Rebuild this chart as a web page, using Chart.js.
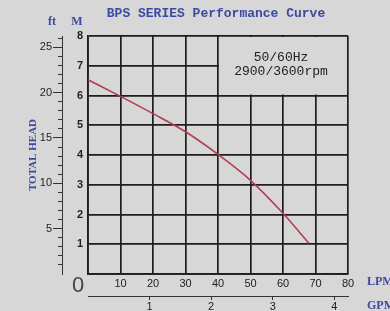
<!DOCTYPE html>
<html><head><meta charset="utf-8">
<script src="https://cdn.jsdelivr.net/npm/chart.js@4/dist/chart.umd.min.js"></script>
<style>html,body{margin:0;padding:0;background:#d7d7d7;}#wrap{width:390px;height:311px;}</style>
</head><body><div id="wrap"><canvas id="c" width="390" height="311"></canvas></div>
<script>
const flowLPM = [0, 10, 20, 30, 40, 50, 60, 68];
const headM = [6.53, 5.97, 5.39, 4.78, 4.02, 3.15, 2.04, 1.03];
const lpmTicks = [10, 20, 30, 40, 50, 60, 70, 80];
const mTicks = [1, 2, 3, 4, 5, 6, 7, 8];
const ftTicks = [5, 10, 15, 20, 25];
const gpmTicks = [1, 2, 3, 4];
const M_TO_FT = 3.28084;
const LPM_PER_GPM = 18.95;
const titleText = 'BPS SERIES Performance Curve';
const boxLines = ['50/60Hz', '2900/3600rpm'];

const BLUE = '#3b4aa0';
const GRID = '#1e1e1e';
const BG = '#d7d7d7';

const bgPlugin = {
  id: 'bg',
  beforeDraw(chart) {
    const ctx = chart.ctx;
    ctx.save(); ctx.fillStyle = BG; ctx.fillRect(0, 0, chart.width, chart.height); ctx.restore();
  },
  beforeDatasetsDraw(chart) {
    const {ctx, scales} = chart;
    const x = scales.x, y = scales.y;
    const l = x.getPixelForValue(40) + 1, r = x.getPixelForValue(80) - 1;
    const t = y.getPixelForValue(8) + 1, b = y.getPixelForValue(6) - 1;
    ctx.save();
    ctx.fillStyle = BG;
    ctx.fillRect(l, t, r - l, b - t);
    ctx.fillStyle = '#222';
    ctx.font = '13px "Liberation Mono"';
    ctx.textAlign = 'center'; ctx.textBaseline = 'middle';
    const cx = (x.getPixelForValue(40) + x.getPixelForValue(80)) / 2 - 2;
    const cy = y.getPixelForValue(7);
    ctx.fillText(boxLines[0], cx, cy - 8);
    ctx.fillText(boxLines[1], cx, cy + 6);
    ctx.restore();
  },
  afterDraw(chart) {
    const {ctx, scales} = chart;
    const x = scales.x, y = scales.y, ft = scales.ft, g = scales.gpm;
    ctx.save();
    ctx.fillStyle = BLUE;
    ctx.textBaseline = 'middle';
    ctx.textAlign = 'center';
    ctx.font = 'bold 13px "Liberation Mono"';
    ctx.fillText(titleText, 216, 14);
    ctx.font = 'bold 12px "Liberation Serif"';
    ctx.fillText('ft', ft.right - 10, 22);
    ctx.fillText('M', y.right - 11, 22);
    ctx.textAlign = 'left';
    ctx.fillText('LPM', x.right + 19, x.top + 8);
    ctx.fillText('GPM', x.right + 19, g.top + 10);
    ctx.fillStyle = '#444';
    ctx.textAlign = 'center';
    ctx.font = '22px "Liberation Sans"';
    ctx.fillText('0', x.getPixelForValue(0) - 10, x.top + 12);
    ctx.restore();
  }
};

new Chart(document.getElementById('c'), {
  type: 'line',
  data: {
    datasets: [{
      data: flowLPM.map((v, i) => ({x: v, y: headM[i]})),
      borderColor: '#b23e52',
      borderWidth: 1.6,
      pointRadius: 0,
      cubicInterpolationMode: 'monotone',
      fill: false
    }]
  },
  options: {
    responsive: false,
    animation: false,
    events: [],
    layout: {padding: {left: 0, right: 42, top: 36, bottom: 0}},
    plugins: {legend: {display: false}, tooltip: {enabled: false}, title: {display: false}},
    scales: {
      x: {
        type: 'linear', position: 'bottom', weight: 0,
        min: 0, max: 80,
        afterFit(s) { s.height = 22; },
        afterBuildTicks(s) { s.ticks = [0].concat(lpmTicks).map(v => ({value: v})); },
        grid: {color: GRID, lineWidth: 1.7, drawTicks: false},
        border: {color: GRID, width: 1.7},
        ticks: {padding: 3, color: '#222', font: {family: 'Liberation Sans', size: 11},
          callback: v => (v === 0 ? '' : String(v))}
      },
      gpm: {
        type: 'linear', position: 'bottom', weight: 1,
        min: 0, max: 80 / LPM_PER_GPM,
        afterFit(s) { s.height = 15; },
        afterBuildTicks(s) { s.ticks = gpmTicks.map(v => ({value: v})); },
        grid: {drawOnChartArea: false, drawTicks: true, tickLength: 4, color: '#333', lineWidth: 1},
        border: {color: '#333', width: 1},
        ticks: {padding: 0, color: '#222', font: {family: 'Liberation Sans', size: 11}, maxRotation: 0}
      },
      y: {
        type: 'linear', position: 'left', weight: 0,
        min: 0, max: 8,
        afterFit(s) { s.width = 26; },
        afterBuildTicks(s) { s.ticks = [0].concat(mTicks).map(v => ({value: v})); },
        grid: {color: GRID, lineWidth: 1.7, drawTicks: false},
        border: {color: GRID, width: 1.7},
        ticks: {padding: 5, color: '#222', font: {family: 'Liberation Sans', size: 11, weight: 'bold'},
          callback: v => (v === 0 ? '' : String(v))}
      },
      ft: {
        type: 'linear', position: 'left', weight: 1,
        min: 0, max: 8 * M_TO_FT,
        afterFit(s) { s.width = 62; },
        afterBuildTicks(s) {
          const arr = [];
          for (let v = 1; v <= Math.floor(8 * M_TO_FT); v++) arr.push({value: v});
          s.ticks = arr;
        },
        title: {display: true, text: 'TOTAL HEAD', color: BLUE, padding: {top: 27, bottom: 0},
          font: {family: 'Liberation Serif', size: 11, weight: 'bold'}},
        grid: {drawOnChartArea: false, drawTicks: true, tickLength: 9, color: '#333', lineWidth: 1,
          tickBorderDash: ctx => (ftTicks.includes(ctx.tick && ctx.tick.value) ? [] : [0, 5, 5, 100])},
        border: {color: '#333', width: 1},
        ticks: {padding: 1, color: '#222', font: {family: 'Liberation Sans', size: 11},
          autoSkip: false,
          callback: v => (ftTicks.includes(v) ? String(v) : '')}
      }
    }
  },
  plugins: [bgPlugin]
});
</script></body></html>
